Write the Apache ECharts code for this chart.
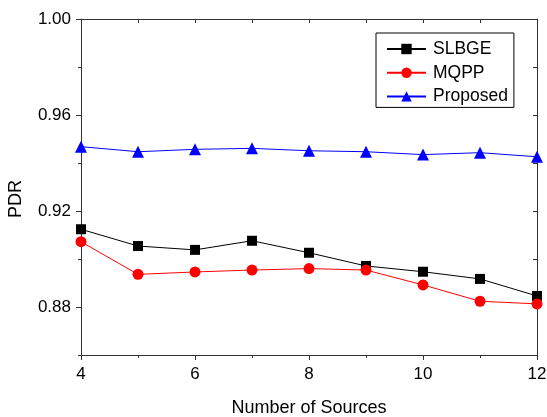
<!DOCTYPE html>
<html>
<head>
<meta charset="utf-8">
<script src="https://cdn.jsdelivr.net/npm/echarts@6/dist/echarts.min.js"></script>
<style>
  html, body { margin: 0; padding: 0; background: #fff; }
  #chart { width: 547px; height: 417px; }
</style>
</head>
<body>
<div id="chart"></div>
<script>
  // values
  const sources = [4, 5, 6, 7, 8, 9, 10, 11, 12];
  const slbge = [0.9124, 0.9054, 0.9038, 0.9076, 0.9026, 0.8971, 0.8947, 0.8917, 0.8846];
  const mqpp = [0.9072, 0.8936, 0.8946, 0.8954, 0.8960, 0.8954, 0.8892, 0.8824, 0.8813];
  const proposed = [0.9468, 0.9447, 0.9457, 0.9461, 0.9451, 0.9447, 0.9435, 0.9443, 0.9426];
  const yLabels = [0.88, 0.92, 0.96, 1.00];
  const yMinor = [0.86, 0.90, 0.94, 0.98];

  const font = 'Liberation Sans, Arial, sans-serif';
  const axisCol = '#333';

  const pair = (arr) => sources.map((x, i) => [x, arr[i]]);

  const chart = echarts.init(document.getElementById('chart'));
  chart.setOption({
    animation: false,
    textStyle: { fontFamily: font },
    grid: { left: 81, right: 10, top: 19, bottom: 62, containLabel: false, outerBoundsMode: 'none' },
    legend: {
      orient: 'vertical',
      left: 376,
      top: 33,
      padding: [7, 6, 2, 10],
      itemGap: 5.7,
      itemWidth: 39,
      itemHeight: 13,
      borderColor: '#000',
      borderWidth: 1,
      borderRadius: 0,
      textStyle: { fontSize: 17.5, lineHeight: 16, color: '#000', fontFamily: font, padding: [0, 0, 0, 2] },
      data: ['SLBGE', 'MQPP', 'Proposed']
    },
    xAxis: [
      {
        type: 'value', min: 4, max: 12, interval: 2,
        name: 'Number of Sources', nameLocation: 'middle', nameGap: 44,
        nameTextStyle: { fontSize: 18, color: '#000', fontFamily: font },
        axisLine: { show: true, lineStyle: { color: axisCol, width: 1 } },
        axisTick: { show: true, length: 5, lineStyle: { color: axisCol } },
        minorTick: { show: true, splitNumber: 2, length: 3, lineStyle: { color: axisCol } },
        axisLabel: { fontSize: 17, color: '#000', margin: 11, fontFamily: font },
        splitLine: { show: false }
      },
      {
        type: 'value', min: 4, max: 12, interval: 1, position: 'top',
        axisLine: { show: true, lineStyle: { color: axisCol, width: 1 } },
        axisTick: { show: true, inside: true, length: 4, lineStyle: { color: axisCol } },
        axisLabel: { show: false },
        splitLine: { show: false }
      }
    ],
    yAxis: [
      {
        type: 'value', min: 0.86, max: 1.0, interval: 0.02,
        name: 'PDR', nameLocation: 'middle', nameGap: 56,
        nameTextStyle: { fontSize: 18, color: '#000', fontFamily: font, padding: [0, 0, 0, -24] },
        axisLine: { show: true, lineStyle: { color: axisCol, width: 1 } },
        axisTick: { show: true, length: 5, customValues: yLabels, lineStyle: { color: axisCol } },
        axisLabel: {
          fontSize: 17, color: '#000', margin: 10, fontFamily: font,
          customValues: yLabels,
          formatter: (v) => v.toFixed(2)
        },
        splitLine: { show: false }
      },
      {
        type: 'value', min: 0.86, max: 1.0, interval: 0.02, position: 'left',
        axisLine: { show: false },
        axisTick: { show: true, length: 3, customValues: yMinor, lineStyle: { color: axisCol } },
        axisLabel: { show: false },
        splitLine: { show: false }
      },
      {
        type: 'value', min: 0.86, max: 1.0, interval: 0.02, position: 'right',
        axisLine: { show: true, lineStyle: { color: axisCol, width: 1 } },
        axisTick: { show: true, inside: true, length: 4, lineStyle: { color: axisCol } },
        axisLabel: { show: false },
        splitLine: { show: false }
      }
    ],
    series: [
      {
        name: 'SLBGE', type: 'line', data: pair(slbge),
        symbol: 'rect', symbolSize: 10,
        lineStyle: { color: '#000', width: 1 },
        itemStyle: { color: '#000' }
      },
      {
        name: 'MQPP', type: 'line', data: pair(mqpp),
        symbol: 'circle', symbolSize: 11,
        lineStyle: { color: '#ff0000', width: 1 },
        itemStyle: { color: '#ff0000' }
      },
      {
        name: 'Proposed', type: 'line', data: pair(proposed),
        symbol: 'triangle', symbolSize: 12,
        lineStyle: { color: '#0000ff', width: 1 },
        itemStyle: { color: '#0000ff' }
      }
    ]
  });
</script>
</body>
</html>
